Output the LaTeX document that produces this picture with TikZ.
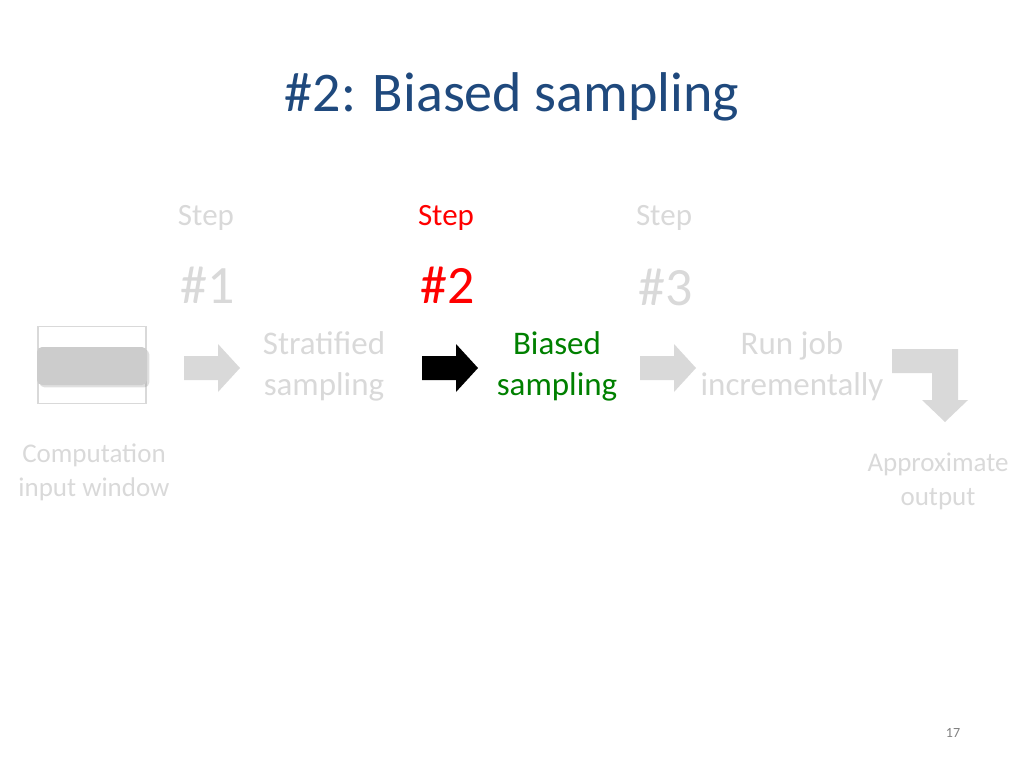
\documentclass[tikz,border=0pt]{standalone}
\usepackage{fontspec}
\setmainfont{Carlito}
\usetikzlibrary{shadows}
\definecolor{ttl}{RGB}{31,73,125}
\definecolor{lg}{RGB}{217,217,217}
\definecolor{gg}{RGB}{0,128,0}
\begin{document}
\begin{tikzpicture}[x=1pt,y=-1pt,
  stepw/.style={font=\fontsize{31}{33}\selectfont,text=lg},
  num/.style={font=\fontsize{54}{56}\selectfont,text=lg},
  lbl/.style={font=\fontsize{33}{41}\selectfont,text=lg,align=center},
  small/.style={font=\fontsize{27}{34}\selectfont,text=lg,align=center},
  barrow/.pic={\fill[pic actions] (-28,-12) -- (6,-12) -- (6,-24) -- (28,0) -- (6,24) -- (6,12) -- (-28,12) -- cycle;}]
\useasboundingbox (0,0) rectangle (1024,768);
\node[font=\fontsize{56}{60}\selectfont,text=ttl] (title) at (512,97) {\#2: Biased sampling};
\node[stepw] (s1) at (206,218) {Step};
\node[num] (n1) at (208,285) {\#1};
\node[stepw,text=red] (s2) at (446,218) {Step};
\node[num,text=red] (n2) at (448,285) {\#2};
\node[stepw] (s3) at (664,218) {Step};
\node[num] (n3) at (666,287) {\#3};
\node[draw=lg,line width=1.5pt,minimum width=108pt,minimum height=77pt] (win) at (92,365) {};
\node[fill=lg!85!gray,rounded corners=5pt,minimum width=110pt,minimum height=38pt,drop shadow={opacity=0.25}] (bar) at (92,366) {};
\pic[fill=lg] at (212,368) {barrow};
\pic[fill=black] at (450,368) {barrow};
\pic[fill=lg] at (668,368) {barrow};
\node[lbl] (t1) at (324,366) {Stratified\\sampling};
\node[lbl,text=gg] (t2) at (557,366) {Biased\\sampling};
\node[lbl] (t3) at (792,366) {Run job\\incrementally};
\fill[lg] (892,349) -- (958,349) -- (958,400) -- (968,400) -- (945,422) -- (922,400) -- (932,400) -- (932,373) -- (892,373) -- cycle;
\node[small] (cw) at (94,472) {Computation\\input window};
\node[small] (ao) at (938,481) {Approximate\\output};
\node[font=\fontsize{14}{16}\selectfont,text=gray] (pg) at (953,733) {17};
\end{tikzpicture}
\end{document}
